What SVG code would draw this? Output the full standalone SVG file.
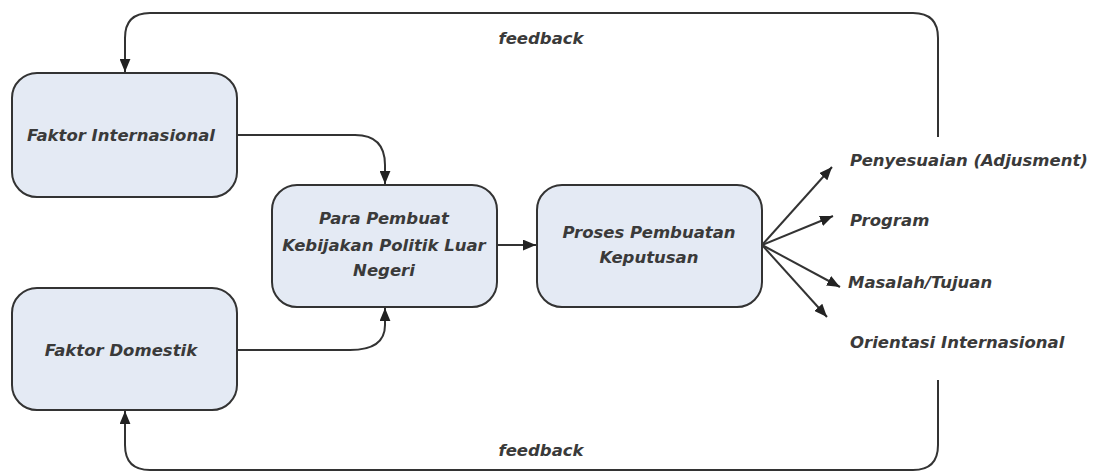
<svg xmlns="http://www.w3.org/2000/svg" width="1097" height="472" viewBox="0 0 1097 472">
<style>
.box{fill:#e4eaf4;stroke:#333;stroke-width:2}
.t{font-family:"DejaVu Sans",sans-serif;font-style:italic;font-weight:bold;font-size:16.5px;fill:#3a3a3a;text-anchor:middle;dominant-baseline:central}
.l{font-family:"DejaVu Sans",sans-serif;font-style:italic;font-weight:bold;font-size:16.5px;fill:#3a3a3a;dominant-baseline:central}
.c{fill:none;stroke:#333;stroke-width:2}
</style>
<defs>
<marker id="a" viewBox="0 0 12 10" refX="12" refY="5" markerWidth="13" markerHeight="11" orient="auto" markerUnits="userSpaceOnUse">
<path d="M0,0 L12,5 L0,10 z" fill="#222"/>
</marker>
</defs>
<rect width="1097" height="472" fill="#fff"/>
<g id="connectors">
<path class="c" d="M938,137 L938,38 Q938,13 913,13 L150,13 Q125,13 125,38 L125,72" marker-end="url(#a)"/>
<path class="c" d="M938,380 L938,445 Q938,470 913,470 L150,470 Q125,470 125,445 L125,411" marker-end="url(#a)"/>
<path class="c" d="M237,135 L355,135 Q385,135 385,165 L385,184" marker-end="url(#a)"/>
<path class="c" d="M237,350 L350,350 Q385,350 385,325 L385,308" marker-end="url(#a)"/>
<path class="c" d="M497,245 L536,245" marker-end="url(#a)"/>
<path class="c" d="M762,245 L832,167" marker-end="url(#a)"/>
<path class="c" d="M762,245 L833,216" marker-end="url(#a)"/>
<path class="c" d="M762,245 L840,287" marker-end="url(#a)"/>
<path class="c" d="M762,245 L827,317" marker-end="url(#a)"/>
</g>
<g id="feedback-top"><text class="t" x="541" y="38">feedback</text></g>
<g id="feedback-bottom"><text class="t" x="541" y="450">feedback</text></g>
<g id="faktor-internasional">
<rect class="box" x="12" y="73" width="225" height="124" rx="25"/>
<text class="t" x="121" y="135">Faktor Internasional</text>
</g>
<g id="faktor-domestik">
<rect class="box" x="12" y="288" width="225" height="122" rx="25"/>
<text class="t" x="121" y="350">Faktor Domestik</text>
</g>
<g id="para-pembuat">
<rect class="box" x="272" y="185" width="225" height="122" rx="25"/>
<text class="t" x="384" y="218">Para Pembuat</text>
<text class="t" x="384" y="245">Kebijakan Politik Luar</text>
<text class="t" x="384" y="270">Negeri</text>
</g>
<g id="proses">
<rect class="box" x="537" y="185" width="225" height="122" rx="25"/>
<text class="t" x="649" y="232">Proses Pembuatan</text>
<text class="t" x="649" y="257">Keputusan</text>
</g>
<g id="outputs">
<text class="l" x="850" y="160">Penyesuaian (Adjusment)</text>
<text class="l" x="850" y="220">Program</text>
<text class="l" x="848" y="282">Masalah/Tujuan</text>
<text class="l" x="850" y="342">Orientasi Internasional</text>
</g>
</svg>
